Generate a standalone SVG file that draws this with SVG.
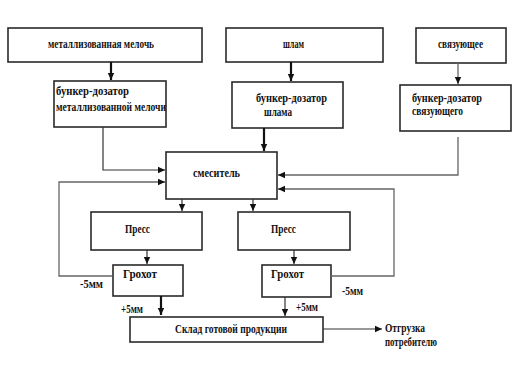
<svg xmlns="http://www.w3.org/2000/svg" width="528" height="377" viewBox="0 0 528 377">
<style>
.b{fill:#fff;stroke:#2a2a2a;stroke-width:1.6}
.t{font-family:"Liberation Serif","DejaVu Serif",serif;font-weight:bold;font-size:11.5px;fill:#111}
.l{fill:none;stroke:#333;stroke-width:1.2}
.k{fill:none;stroke:#111;stroke-width:2.2}
.g{fill:none;stroke:#666;stroke-width:1.3}
</style>
<defs>
<marker id="a" markerWidth="8" markerHeight="8" refX="7" refY="4" orient="auto" markerUnits="userSpaceOnUse"><path d="M0,0.8 L7,4 L0,7.2 Z" fill="#111"/></marker>
</defs>
<rect width="528" height="377" fill="#fff"/>
<g id="n1"><rect class="b" x="8" y="28" width="194" height="34"/><text class="t" x="48" y="48" textLength="106" lengthAdjust="spacingAndGlyphs">металлизованная мелочь</text></g>
<g id="n2"><rect class="b" x="226" y="28" width="157" height="34"/><text class="t" x="283" y="48" textLength="21" lengthAdjust="spacingAndGlyphs">шлам</text></g>
<g id="n3"><rect class="b" x="416" y="28" width="90" height="35"/><text class="t" x="438" y="48" textLength="45" lengthAdjust="spacingAndGlyphs">связующее</text></g>
<g id="n4"><rect class="b" x="54" y="81" width="112" height="46"/><text class="t" x="56" y="95" textLength="73" lengthAdjust="spacingAndGlyphs">бункер-дозатор</text><text class="t" x="56" y="111" textLength="110" lengthAdjust="spacingAndGlyphs">металлизованной мелочи</text></g>
<g id="n5"><rect class="b" x="232" y="82" width="111" height="46"/><text class="t" x="256" y="102" textLength="71" lengthAdjust="spacingAndGlyphs">бункер-дозатор</text><text class="t" x="264" y="116" textLength="28" lengthAdjust="spacingAndGlyphs">шлама</text></g>
<g id="n6"><rect class="b" x="400" y="85" width="111" height="46"/><text class="t" x="412" y="102" textLength="70" lengthAdjust="spacingAndGlyphs">бункер-дозатор</text><text class="t" x="412" y="115" textLength="51" lengthAdjust="spacingAndGlyphs">связующего</text></g>
<g id="n7"><rect class="b" x="166" y="152" width="111" height="47"/><text class="t" x="193" y="177" textLength="47" lengthAdjust="spacingAndGlyphs">смеситель</text></g>
<g id="n8"><rect class="b" x="91" y="212" width="111" height="38"/><text class="t" x="125" y="233" textLength="25" lengthAdjust="spacingAndGlyphs">Пресс</text></g>
<g id="n9"><rect class="b" x="238" y="212" width="112" height="38"/><text class="t" x="271" y="233" textLength="25" lengthAdjust="spacingAndGlyphs">Пресс</text></g>
<g id="n10"><rect class="b" x="113" y="265" width="70" height="31"/><text class="t" x="123" y="278" textLength="34" lengthAdjust="spacingAndGlyphs">Грохот</text></g>
<g id="n11"><rect class="b" x="262" y="265" width="69" height="32"/><text class="t" x="271" y="278" textLength="33" lengthAdjust="spacingAndGlyphs">Грохот</text></g>
<g id="n12"><rect class="b" x="130" y="317" width="193" height="25"/><text class="t" x="175" y="333" textLength="112" lengthAdjust="spacingAndGlyphs">Склад готовой продукции</text></g>
<g id="n13"><text class="t" x="385" y="332" textLength="40" lengthAdjust="spacingAndGlyphs">Отгрузка</text><text class="t" x="385" y="346" textLength="52" lengthAdjust="spacingAndGlyphs">потребителю</text></g>
<g id="connectors">
<path class="k" d="M111,62 V80" marker-end="url(#a)"/>
<path class="k" d="M291,62 V81" marker-end="url(#a)"/>
<path class="g" d="M458,63 V84" marker-end="url(#a)"/>
<path class="l" d="M103,127 V170 H165" marker-end="url(#a)"/>
<path class="k" d="M264,128 V151" marker-end="url(#a)"/>
<path class="g" d="M458,137 V175 H278" marker-end="url(#a)"/>
<path class="g" d="M112,276 H59 V182 H165" marker-end="url(#a)"/>
<path class="g" d="M331,276 H394 V189 H278" marker-end="url(#a)"/>
<path class="l" d="M182,199 V211" marker-end="url(#a)"/>
<path class="l" d="M253,199 V211" marker-end="url(#a)"/>
<path class="l" d="M147,250 V264" marker-end="url(#a)"/>
<path class="l" d="M294,250 V264" marker-end="url(#a)"/>
<path class="k" d="M161,296 V315" marker-end="url(#a)"/>
<path class="l" d="M285,297 V316" marker-end="url(#a)"/>
<path class="l" d="M323,329 H382" marker-end="url(#a)"/>
<text class="t" x="80" y="288" textLength="23" lengthAdjust="spacingAndGlyphs">-5мм</text>
<text class="t" x="121" y="313" textLength="22" lengthAdjust="spacingAndGlyphs">+5мм</text>
<text class="t" x="342" y="295" textLength="21" lengthAdjust="spacingAndGlyphs">-5мм</text>
<text class="t" x="296" y="311" textLength="22" lengthAdjust="spacingAndGlyphs">+5мм</text>
</g>
</svg>
